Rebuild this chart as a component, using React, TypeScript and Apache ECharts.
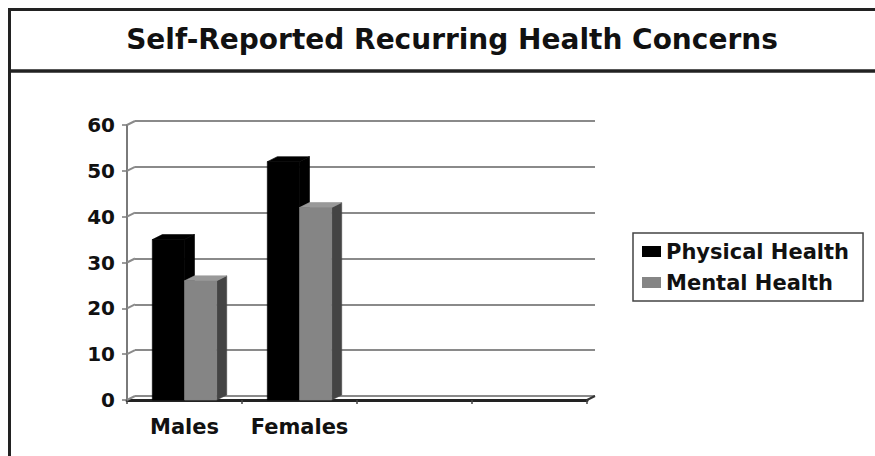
import React, { useEffect, useRef } from "react";
import * as echarts from "echarts";

// Chart data
const categories = ["Males", "Females", "", ""];
const physicalHealth = [35, 52];
const mentalHealth = [26, 42];
const seriesNames = ["Physical Health", "Mental Health"];
const yMin = 0;
const yMax = 60;
const yStep = 10;
const yTicks = [0, 10, 20, 30, 40, 50, 60];

const FONT = "DejaVu Sans";

// depth of the pseudo-3D columns and back wall
const DEPTH_X = 10;
const DEPTH_Y = 5;
const WALL_X = 8;
const WALL_Y = 4;

type Palette = { front: string; top: string; side: string };

function columnRenderer(side: "left" | "right", pal: Palette) {
  return (params: any, api: any) => {
    const idx = api.value(0);
    const v = api.value(1);
    const top = api.coord([idx, v]);
    const base = api.coord([idx, 0]);
    const band = api.size([1, 0])[0];
    const w = band * 0.28;
    const x0 = side === "left" ? top[0] - w : top[0];
    const x1 = x0 + w;
    const yT = top[1];
    const yB = base[1];
    return {
      type: "group",
      children: [
        {
          type: "polygon",
          shape: {
            points: [
              [x1, yT],
              [x1 + DEPTH_X, yT - DEPTH_Y],
              [x1 + DEPTH_X, yB - DEPTH_Y],
              [x1, yB],
            ],
          },
          style: { fill: pal.side, stroke: pal.side, lineWidth: 0.6 },
        },
        {
          type: "polygon",
          shape: {
            points: [
              [x0, yT],
              [x0 + DEPTH_X, yT - DEPTH_Y],
              [x1 + DEPTH_X, yT - DEPTH_Y],
              [x1, yT],
            ],
          },
          style: { fill: pal.top, stroke: pal.top, lineWidth: 0.6 },
        },
        {
          type: "rect",
          shape: { x: x0, y: yT, width: w, height: yB - yT },
          style: { fill: pal.front, stroke: pal.front, lineWidth: 0.6 },
        },
      ],
    };
  };
}

function wallConnectors(params: any, api: any) {
  const v = api.value(1);
  const p = api.coord([0, v]);
  const cs = params.coordSys;
  const stroke = { stroke: "#8a8a8a", lineWidth: 2 };
  const children: any[] = [
    {
      type: "line",
      shape: { x1: cs.x, y1: p[1], x2: cs.x + WALL_X, y2: p[1] - WALL_Y },
      style: stroke,
    },
  ];
  if (v === yMin) {
    children.push({
      type: "line",
      shape: {
        x1: cs.x + cs.width,
        y1: p[1],
        x2: cs.x + cs.width + WALL_X,
        y2: p[1] - WALL_Y,
      },
      style: { stroke: "#333", lineWidth: 2 },
    });
  }
  return { type: "group", children };
}

export default function App() {
  const ref = useRef<HTMLDivElement>(null);

  useEffect(() => {
    if (!ref.current) return;
    const chart = echarts.init(ref.current, null, { renderer: "svg" });

    const physicalPal: Palette = { front: "#000000", top: "#000000", side: "#000000" };
    const mentalPal: Palette = { front: "#858585", top: "#999999", side: "#444444" };

    chart.setOption({
      animation: false,
      backgroundColor: "#ffffff",
      title: {
        text: "Self-Reported Recurring Health Concerns",
        left: 447,
        top: 20,
        textAlign: "center",
        textStyle: {
          fontFamily: FONT,
          fontWeight: "bold",
          fontSize: 28,
          color: "#111",
        },
      },
      graphic: [
        {
          type: "rect",
          shape: { x: 9.5, y: 9.5, width: 900, height: 500 },
          style: { fill: "none", stroke: "#222", lineWidth: 3 },
          silent: true,
        },
        {
          type: "line",
          shape: { x1: 9.5, y1: 71, x2: 900, y2: 71 },
          style: { stroke: "#222", lineWidth: 3.5 },
          silent: true,
        },
      ],
      legend: {
        data: seriesNames,
        orient: "vertical",
        left: 633,
        top: 233,
        icon: "rect",
        itemWidth: 19,
        itemHeight: 11,
        itemGap: 10,
        padding: [8, 14, 8, 9],
        borderColor: "#444",
        borderWidth: 1.5,
        textStyle: {
          fontFamily: FONT,
          fontWeight: "bold",
          fontSize: 21,
          color: "#111",
        },
      },
      grid: [
        { left: 127, right: 288, top: 125, bottom: 56 },
        { left: 127 + WALL_X, right: 288 - WALL_X, top: 125 - WALL_Y, bottom: 56 + WALL_Y },
      ],
      xAxis: [
        {
          type: "category",
          gridIndex: 0,
          data: categories,
          axisLine: { lineStyle: { color: "#222", width: 3 } },
          axisTick: { show: true, interval: 0, length: 4, lineStyle: { color: "#444", width: 1.5 } },
          axisLabel: {
            interval: 0,
            margin: 16,
            fontFamily: FONT,
            fontWeight: "bold",
            fontSize: 21,
            color: "#111",
          },
          splitLine: { show: false },
        },
        {
          type: "category",
          gridIndex: 1,
          data: categories,
          axisLine: { show: false },
          axisTick: { show: false },
          axisLabel: { show: false },
          splitLine: { show: false },
        },
      ],
      yAxis: [
        {
          type: "value",
          gridIndex: 0,
          min: yMin,
          max: yMax,
          interval: yStep,
          axisLine: { show: true, lineStyle: { color: "#7a7a7a", width: 2 } },
          axisTick: { show: true, length: 5, lineStyle: { color: "#7a7a7a", width: 1.5 } },
          axisLabel: {
            margin: 12,
            padding: [6, 0, 0, 0],
            fontFamily: FONT,
            fontWeight: "bold",
            fontSize: 20,
            color: "#111",
          },
          splitLine: { show: false },
        },
        {
          type: "value",
          gridIndex: 1,
          min: yMin,
          max: yMax,
          interval: yStep,
          axisLine: { show: false },
          axisTick: { show: false },
          axisLabel: { show: false },
          splitLine: { show: true, lineStyle: { color: "#8a8a8a", width: 2 } },
        },
      ],
      series: [
        {
          type: "custom",
          name: "wall",
          xAxisIndex: 0,
          yAxisIndex: 0,
          silent: true,
          data: yTicks.map((v) => [0, v]),
          renderItem: wallConnectors,
          z: 1,
        },
        {
          type: "custom",
          name: seriesNames[0],
          xAxisIndex: 0,
          yAxisIndex: 0,
          itemStyle: { color: physicalPal.front },
          data: physicalHealth.map((v, i) => [i, v]),
          renderItem: columnRenderer("left", physicalPal),
          z: 3,
        },
        {
          type: "custom",
          name: seriesNames[1],
          xAxisIndex: 0,
          yAxisIndex: 0,
          itemStyle: { color: mentalPal.front },
          data: mentalHealth.map((v, i) => [i, v]),
          renderItem: columnRenderer("right", mentalPal),
          z: 4,
        },
      ],
    });

    return () => chart.dispose();
  }, []);

  return (
    <div
      ref={ref}
      style={{ position: "fixed", left: 0, top: 0, width: 875, height: 456 }}
    />
  );
}
